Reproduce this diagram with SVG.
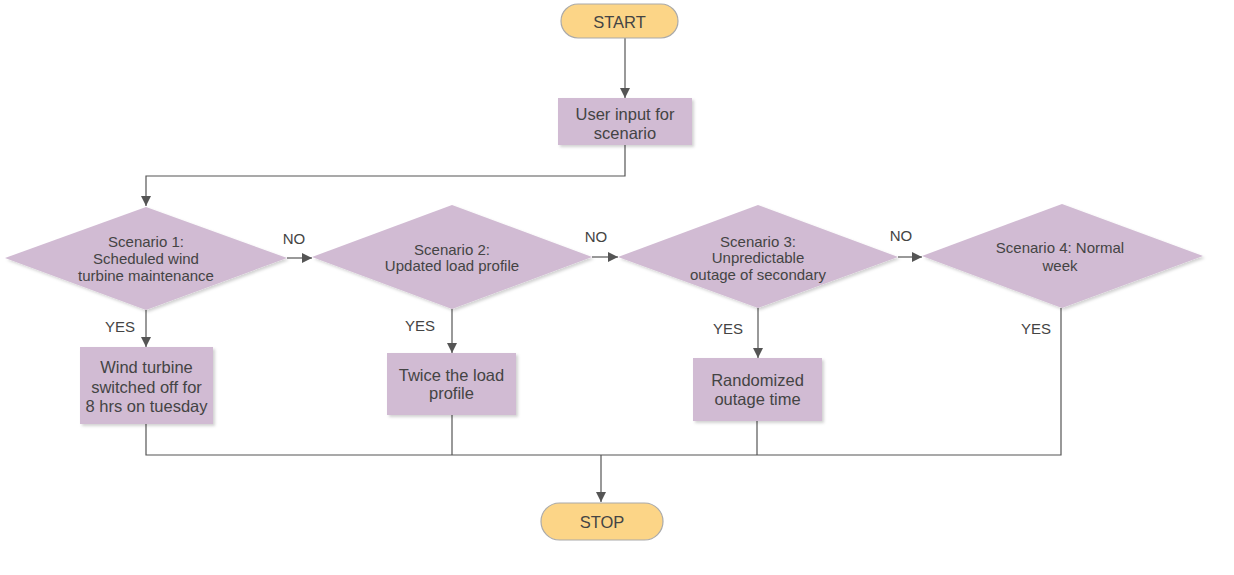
<svg xmlns="http://www.w3.org/2000/svg" width="1234" height="575" viewBox="0 0 1234 575">
<style>
  .term { fill: #fcd587; stroke: #aaa; stroke-width: 1.2; }
  .proc { fill: #d1bbd3; stroke: none; filter: url(#sh); }
  .dec { fill: #d1bbd3; stroke: none; filter: url(#sh); }
  .tb { font-family: "Liberation Sans", Arial, sans-serif; font-size: 16.5px; fill: #444; text-anchor: middle; }
  .td { font-family: "Liberation Sans", Arial, sans-serif; font-size: 15px; fill: #444; text-anchor: middle; }
  .lbl { font-family: "Liberation Sans", Arial, sans-serif; font-size: 15px; fill: #444; text-anchor: middle; }
  .ln { fill: none; stroke: #555; stroke-width: 1.2; }
</style>
<defs>
  <filter id="sh" x="-10%" y="-10%" width="130%" height="130%">
    <feDropShadow dx="2" dy="2" stdDeviation="1.5" flood-color="#000" flood-opacity="0.18"/>
  </filter>
  <marker id="arr" viewBox="0 0 10 10" refX="10" refY="5" markerWidth="10" markerHeight="10" markerUnits="userSpaceOnUse" orient="auto">
    <path d="M0,0 L10,5 L0,10 z" fill="#555"/>
  </marker>
</defs>
<rect width="1234" height="575" fill="#fff"/>

<g id="connectors">
  <path class="ln" d="M625,38 V98" marker-end="url(#arr)"/>
  <path class="ln" d="M625,145 V176 H146 V206" marker-end="url(#arr)"/>
  <path class="ln" d="M287,258 H312" marker-end="url(#arr)"/>
  <path class="ln" d="M592,257 H618" marker-end="url(#arr)"/>
  <path class="ln" d="M898,257 H922" marker-end="url(#arr)"/>
  <path class="ln" d="M146,310 V347" marker-end="url(#arr)"/>
  <path class="ln" d="M452,309 V353" marker-end="url(#arr)"/>
  <path class="ln" d="M758,308 V358" marker-end="url(#arr)"/>
  <path class="ln" d="M1061,308 V455 H146 V424"/>
  <path class="ln" d="M452,415 V455"/>
  <path class="ln" d="M757,421 V455"/>
  <path class="ln" d="M601,455 V502" marker-end="url(#arr)"/>
  <text class="lbl" x="294" y="244">NO</text>
  <text class="lbl" x="596" y="242">NO</text>
  <text class="lbl" x="901" y="241">NO</text>
  <text class="lbl" x="120" y="332">YES</text>
  <text class="lbl" x="420" y="331">YES</text>
  <text class="lbl" x="728" y="334">YES</text>
  <text class="lbl" x="1036" y="334">YES</text>
</g>

<g id="start">
  <rect class="term" x="561" y="4" width="117" height="34" rx="17"/>
  <text class="tb" x="619.5" y="27.5">START</text>
</g>

<g id="input">
  <rect class="proc" x="558" y="98" width="134" height="47"/>
  <text class="tb" x="625" y="120">User input for</text>
  <text class="tb" x="625" y="139">scenario</text>
</g>

<g id="scenario1">
  <polygon class="dec" points="146,207 287,258 146,310 5,258"/>
  <text class="td" x="146" y="247">Scenario 1:</text>
  <text class="td" x="146" y="264">Scheduled wind</text>
  <text class="td" x="146" y="281">turbine maintenance</text>
</g>

<g id="scenario2">
  <polygon class="dec" points="452,205 592,257 452,309 312,257"/>
  <text class="td" x="452" y="255">Scenario 2:</text>
  <text class="td" x="452" y="271">Updated load profile</text>
</g>

<g id="scenario3">
  <polygon class="dec" points="758,205 898,257 758,308 618,257"/>
  <text class="td" x="758" y="247">Scenario 3:</text>
  <text class="td" x="758" y="263">Unpredictable</text>
  <text class="td" x="758" y="280">outage of secondary</text>
</g>

<g id="scenario4">
  <polygon class="dec" points="1062,204 1203,256 1062,308 922,256"/>
  <text class="td" x="1060" y="253">Scenario 4: Normal</text>
  <text class="td" x="1060" y="271">week</text>
</g>

<g id="box1">
  <rect class="proc" x="80" y="347" width="133" height="77"/>
  <text class="tb" x="146.5" y="373">Wind turbine</text>
  <text class="tb" x="146.5" y="393">switched off for</text>
  <text class="tb" x="146.5" y="412">8 hrs on tuesday</text>
</g>

<g id="box2">
  <rect class="proc" x="387" y="353" width="129" height="62"/>
  <text class="tb" x="451.5" y="381">Twice the load</text>
  <text class="tb" x="451.5" y="399">profile</text>
</g>

<g id="box3">
  <rect class="proc" x="693" y="358" width="129" height="63"/>
  <text class="tb" x="757.5" y="386">Randomized</text>
  <text class="tb" x="757.5" y="405">outage time</text>
</g>

<g id="stop">
  <rect class="term" x="541" y="503" width="122" height="37" rx="18.5"/>
  <text class="tb" x="602" y="528">STOP</text>
</g>
</svg>
